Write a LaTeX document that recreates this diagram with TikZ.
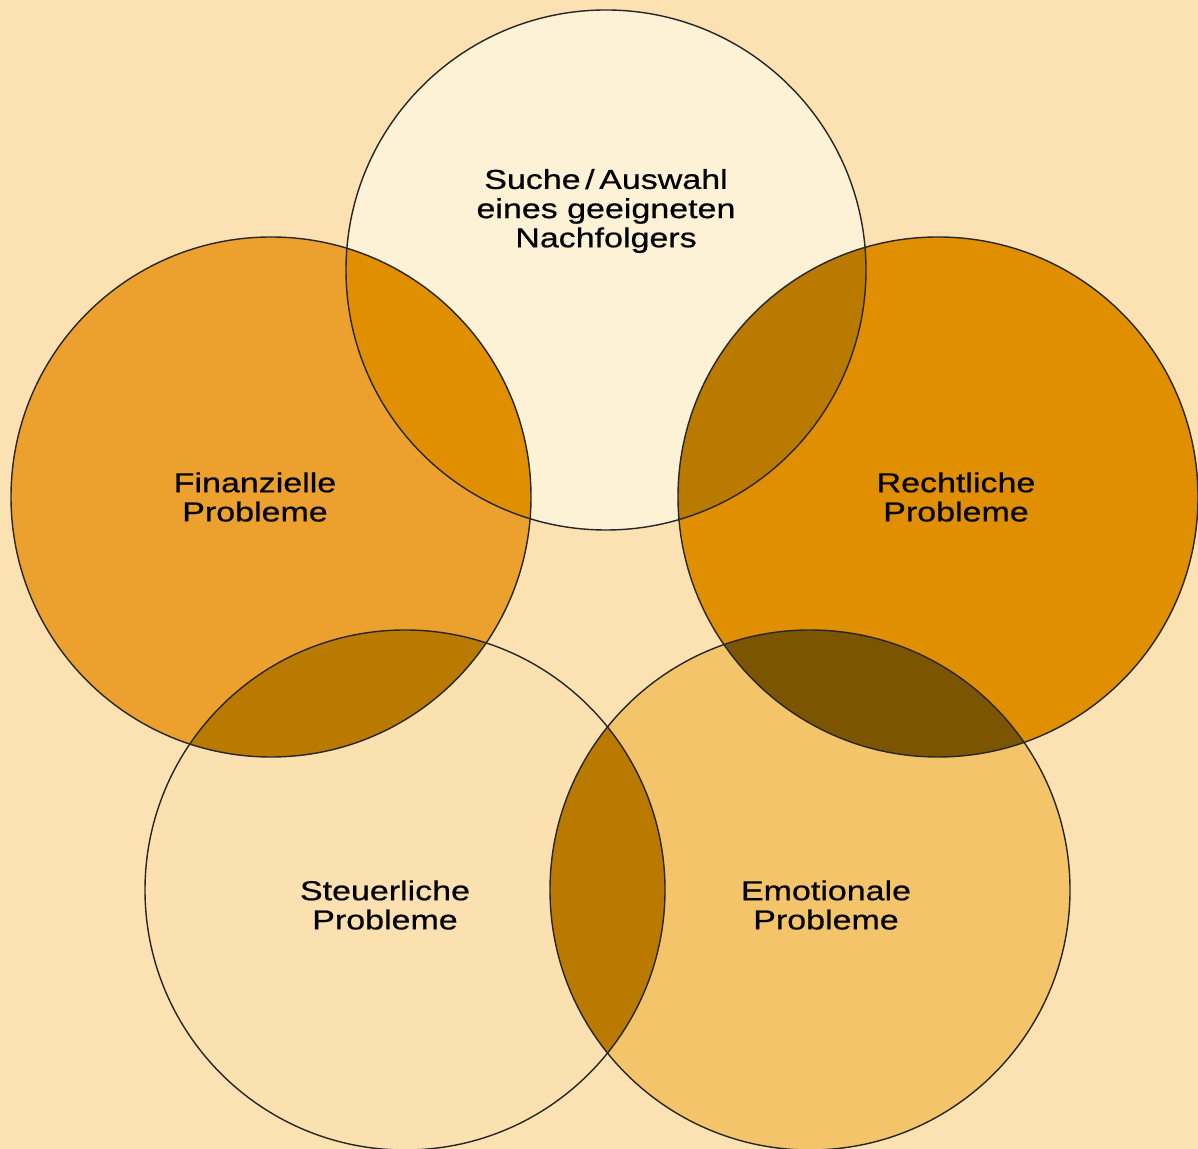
\documentclass[tikz,border=0pt]{standalone}
\usepackage{fontspec}
\setmainfont{Liberation Sans}[FakeStretch=1.24,FakeBold=0.6]
\usepackage{tikz}
\usetikzlibrary{positioning}
\definecolor{bgpeach}{RGB}{252,226,178}
\definecolor{toplight}{RGB}{253,241,214}
\definecolor{leftorange}{RGB}{236,161,46}
\definecolor{rightorange}{RGB}{224,143,0}
\definecolor{lowpeach}{RGB}{252,225,176}
\definecolor{lowgold}{RGB}{244,196,106}
\definecolor{overlapmid}{RGB}{186,122,0}
\definecolor{overlapdark}{RGB}{124,85,0}
\tikzset{
    % ring outlines and labels
    ring/.style={draw=black!85, line width=0.4pt},
    topiclabel/.style={
        align=center, text=black,
        font=\fontsize{7.8}{8.3}\selectfont
    }
}

\begin{document}
\begin{tikzpicture}

% Background
\fill[bgpeach] (0,0) rectangle (11.98,11.49);
\useasboundingbox (0,0) rectangle (11.98,11.49);

% Circle centres
\coordinate (suche) at (6.06,8.79);
\coordinate (finanz) at (2.71,6.52);
\coordinate (recht) at (9.38,6.52);
\coordinate (steuer) at (4.05,2.59);
\coordinate (emotion) at (8.10,2.59);
\def\rr{2.6}

% Circle fills
\fill[toplight] (suche) circle (\rr);
\fill[leftorange] (finanz) circle (\rr);
\fill[rightorange] (recht) circle (\rr);
\fill[lowpeach] (steuer) circle (\rr);
\fill[lowgold] (emotion) circle (\rr);

% Overlaps
\begin{scope}
  \clip (suche) circle (\rr);
  \fill[rightorange] (finanz) circle (\rr);
  \fill[overlapmid] (recht) circle (\rr);
\end{scope}
\begin{scope}
  \clip (steuer) circle (\rr);
  \fill[overlapmid] (finanz) circle (\rr);
  \fill[overlapmid] (emotion) circle (\rr);
\end{scope}
\begin{scope}
  \clip (emotion) circle (\rr);
  \fill[overlapdark] (recht) circle (\rr);
\end{scope}

% Outlines
\foreach \c in {suche,finanz,recht,steuer,emotion}
  \draw[ring] (\c) circle (\rr);

% Labels
\node[topiclabel] (lsuche) at (6.06,9.38) {Suche\,/\,Auswahl\\eines geeigneten\\Nachfolgers};
\node[topiclabel] (lfinanz) at (2.55,6.52) {Finanzielle\\Probleme};
\node[topiclabel] (lrecht) at (9.56,6.52) {Rechtliche\\Probleme};
\node[topiclabel] (lsteuer) at (3.85,2.44) {Steuerliche\\Probleme};
\node[topiclabel] (lemotion) at (8.26,2.44) {Emotionale\\Probleme};

\end{tikzpicture}
\end{document}
